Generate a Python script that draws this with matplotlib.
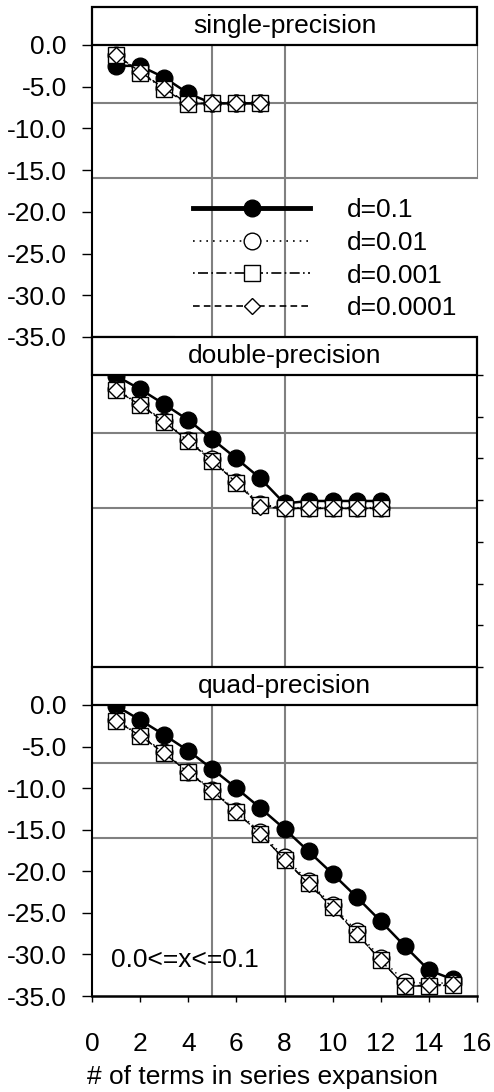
import numpy as np
import matplotlib
matplotlib.use('Agg')
import matplotlib.pyplot as plt
from matplotlib.patches import Rectangle
from matplotlib.lines import Line2D
from matplotlib.ticker import FormatStrFormatter

plt.rcParams['font.family'] = ['Liberation Sans', 'DejaVu Sans']
FS = 19

# log10 relative error vs number of terms, per precision and step d
labels = ['d=0.1', 'd=0.01', 'd=0.001', 'd=0.0001']

single_n = np.arange(1, 8)
single = [
    [-2.5, -2.5, -3.9, -5.8, -7.0, -7.0, -7.0],
    [-1.2, -3.2, -5.2, -7.0, -7.0, -7.0, -7.0],
    [-1.2, -3.3, -5.3, -7.1, -7.0, -7.0, -7.0],
    [-1.2, -3.2, -5.2, -7.0, -7.0, -7.0, -7.0],
]

double_n = np.arange(1, 13)
double = [
    [-0.1, -1.7, -3.5, -5.4, -7.7, -10.0, -12.4, -15.4, -15.1, -15.1, -15.1, -15.1],
    [-1.7, -3.5, -5.5, -7.8, -10.1, -12.8, -15.5, -15.9, -15.9, -15.9, -15.9, -15.9],
    [-1.8, -3.6, -5.6, -7.9, -10.3, -12.9, -15.6, -16.0, -16.0, -16.0, -16.0, -16.0],
    [-1.8, -3.6, -5.6, -7.9, -10.3, -12.9, -15.8, -16.0, -16.0, -16.0, -16.0, -16.0],
]

quad_n = np.arange(1, 16)
quad = [
    [-0.1, -1.8, -3.6, -5.5, -7.7, -10.0, -12.4, -14.9, -17.6, -20.3, -23.1, -26.0, -29.0, -31.9, -33.0],
    [-1.8, -3.6, -5.7, -8.0, -10.2, -12.7, -15.3, -18.3, -21.2, -24.1, -27.2, -30.4, -33.3, -33.5, -33.4],
    [-1.9, -3.7, -5.8, -8.1, -10.3, -12.9, -15.5, -18.6, -21.4, -24.3, -27.5, -30.7, -33.8, -33.8, -33.7],
    [-1.9, -3.7, -5.8, -8.1, -10.3, -12.9, -15.5, -18.6, -21.5, -24.4, -27.5, -30.7, -33.8, -33.7, -33.6],
]

# single / double precision limits and reference term counts
ref_levels = [-7, -16]
ref_terms = [5, 8]

styles = [
    dict(ls='-', lw=1.8, marker='o', ms=12, mfc='black', mec='black'),
    dict(ls=(0, (1, 3)), lw=1.0, marker='o', ms=12, mfc='white', mec='black', mew=1.0),
    dict(ls=(0, (1, 2, 6, 2)), lw=1.0, marker='s', ms=12, mfc='white', mec='black', mew=1.0),
    dict(ls=(0, (4, 2.5)), lw=1.0, marker='D', ms=8.5, mfc='white', mec='black', mew=1.0),
]

W_PX, H_PX = 494, 1092
fig = plt.figure(figsize=(W_PX / 100, H_PX / 100), dpi=100)

x0, x1 = 92, 477
panels = [('single-precision', single_n, single, 7, 45, 337),
          ('double-precision', double_n, double, 337, 375, 667),
          ('quad-precision', quad_n, quad, 667, 705, 996)]

axes = []
for title, n, data, tb, top, bot in panels:
    ax = fig.add_axes([x0 / W_PX, 1 - bot / H_PX, (x1 - x0) / W_PX, (bot - top) / H_PX])
    ax.set_xlim(0, 16)
    ax.set_ylim(-35, 0)
    ax.set_yticks(np.arange(-35, 1, 5))
    ax.set_xticks(np.arange(0, 17, 2))
    ax.yaxis.set_major_formatter(FormatStrFormatter('%.1f'))
    for lv in ref_levels:
        ax.axhline(lv, color='#808080', lw=1.5, zorder=1)
    for t in ref_terms:
        ax.axvline(t, color='#808080', lw=1.5, zorder=1)
    for vals, st in zip(data, styles):
        ax.plot(n, vals, color='black', zorder=3, **st)
    ax.spines['top'].set_visible(False)
    ax.spines['left'].set_linewidth(1.5)
    ax.tick_params(labelsize=FS)
    # title box above each panel
    fig.add_artist(Rectangle((x0 / W_PX, 1 - top / H_PX), (x1 - x0) / W_PX, (top - tb) / H_PX,
                             transform=fig.transFigure, facecolor='white',
                             edgecolor='black', lw=1.6, zorder=5))
    fig.text((x0 + x1) / 2 / W_PX, 1 - (top + tb) / 2 / H_PX, title, ha='center',
             va='center', fontsize=FS, zorder=6)
    axes.append(ax)

ax_s, ax_d, ax_q = axes

# single
ax_s.tick_params(axis='y', direction='out', length=7.2, width=1, pad=11)
ax_s.tick_params(axis='x', bottom=False, labelbottom=False)
ax_s.spines['right'].set_color('#808080')
ax_s.spines['right'].set_bounds(-16, 0)
ax_s.spines['bottom'].set_bounds(0, 3.4)
ax_s.spines['bottom'].set_linewidth(1.5)

handles = [Line2D([], [], color='black', **dict(st, lw=(3.5 if i == 0 else 1.2)))
           for i, st in enumerate(styles)]
ax_s.legend(handles, labels, loc='upper left', bbox_to_anchor=(0.262, 0.475),
            frameon=False, fontsize=FS, handlelength=4.45, handletextpad=1.4,
            labelspacing=0.33, borderpad=0, borderaxespad=0)

# double
ax_d.tick_params(axis='y', left=False, labelleft=False, right=True,
                 direction='out', length=4.3, width=1)
ax_d.tick_params(axis='x', bottom=False, labelbottom=False)
ax_d.spines['bottom'].set_visible(False)
ax_d.spines['right'].set_linewidth(1.5)

# quad
ax_q.tick_params(axis='y', direction='out', length=7.2, width=1, pad=11)
ax_q.tick_params(axis='x', direction='out', length=4.3, width=1, pad=21.7)
ax_q.spines['right'].set_color('#808080')
ax_q.spines['right'].set_linewidth(1)
ax_q.spines['bottom'].set_linewidth(1.8)
ax_q.text(0.8, -30.7, '0.0<=x<=0.1', ha='left', va='center', fontsize=FS)

fig.text(262 / W_PX, 1 - 1077 / H_PX, '# of terms in series expansion',
         ha='center', va='center', fontsize=FS)

fig.savefig('out.png', dpi=100)
